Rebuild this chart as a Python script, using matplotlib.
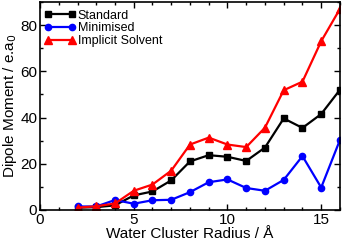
import numpy as np
import matplotlib.pyplot as plt
from matplotlib.ticker import MultipleLocator

plt.rcParams['font.family'] = ['Liberation Sans', 'DejaVu Sans']

radius = [2, 3, 4, 5, 6, 7, 8, 9, 10, 11, 12, 13, 14, 15, 16]
standard = [1.0, 1.2, 2.0, 6.3, 8.0, 12.8, 21.0, 23.7, 23.0, 21.2, 27.0, 39.6, 35.5, 41.5, 52.0]
minimised = [1.5, 1.5, 4.3, 2.7, 4.2, 4.4, 7.7, 12.0, 13.2, 9.5, 8.3, 13.0, 23.3, 9.7, 30.3]
implicit = [1.0, 1.6, 2.8, 8.3, 11.0, 17.0, 28.3, 31.3, 28.3, 27.2, 35.6, 51.8, 55.5, 73.0, 87.0]

fig = plt.figure(figsize=(3.42, 2.43), dpi=100)
ax = fig.add_axes([0.117, 0.136, 0.877, 0.856])

ax.plot(radius, standard, color='black', marker='s', ms=4.5, lw=1.6, label='Standard')
ax.plot(radius, minimised, color='blue', marker='o', ms=4.5, lw=1.6, label='Minimised')
ax.plot(radius, implicit, color='red', marker='^', ms=5.5, lw=1.6, label='Implicit Solvent')

ax.set_xlim(0, 16)
ax.set_ylim(0, 90)
ax.xaxis.set_major_locator(MultipleLocator(5))
ax.xaxis.set_minor_locator(MultipleLocator(1))
ax.yaxis.set_major_locator(MultipleLocator(20))
ax.yaxis.set_minor_locator(MultipleLocator(10))
ax.tick_params(which='both', direction='in', top=True, right=True, labelsize=11, width=1)
ax.tick_params(which='major', length=4, pad=2)
ax.tick_params(which='minor', length=2.5)
for s in ax.spines.values():
    s.set_linewidth(1.2)

ax.set_xlabel('Water Cluster Radius / Å', fontsize=11, labelpad=0)
ax.set_ylabel('Dipole Moment / e.a$_0$', fontsize=11, labelpad=1)

ax.legend(loc='upper left', bbox_to_anchor=(0.005, 0.975), frameon=False, fontsize=9,
          numpoints=2, handlelength=2.5, handletextpad=0.2, labelspacing=0.05,
          borderaxespad=0, borderpad=0.2)

fig.savefig('out.png', dpi=100)
